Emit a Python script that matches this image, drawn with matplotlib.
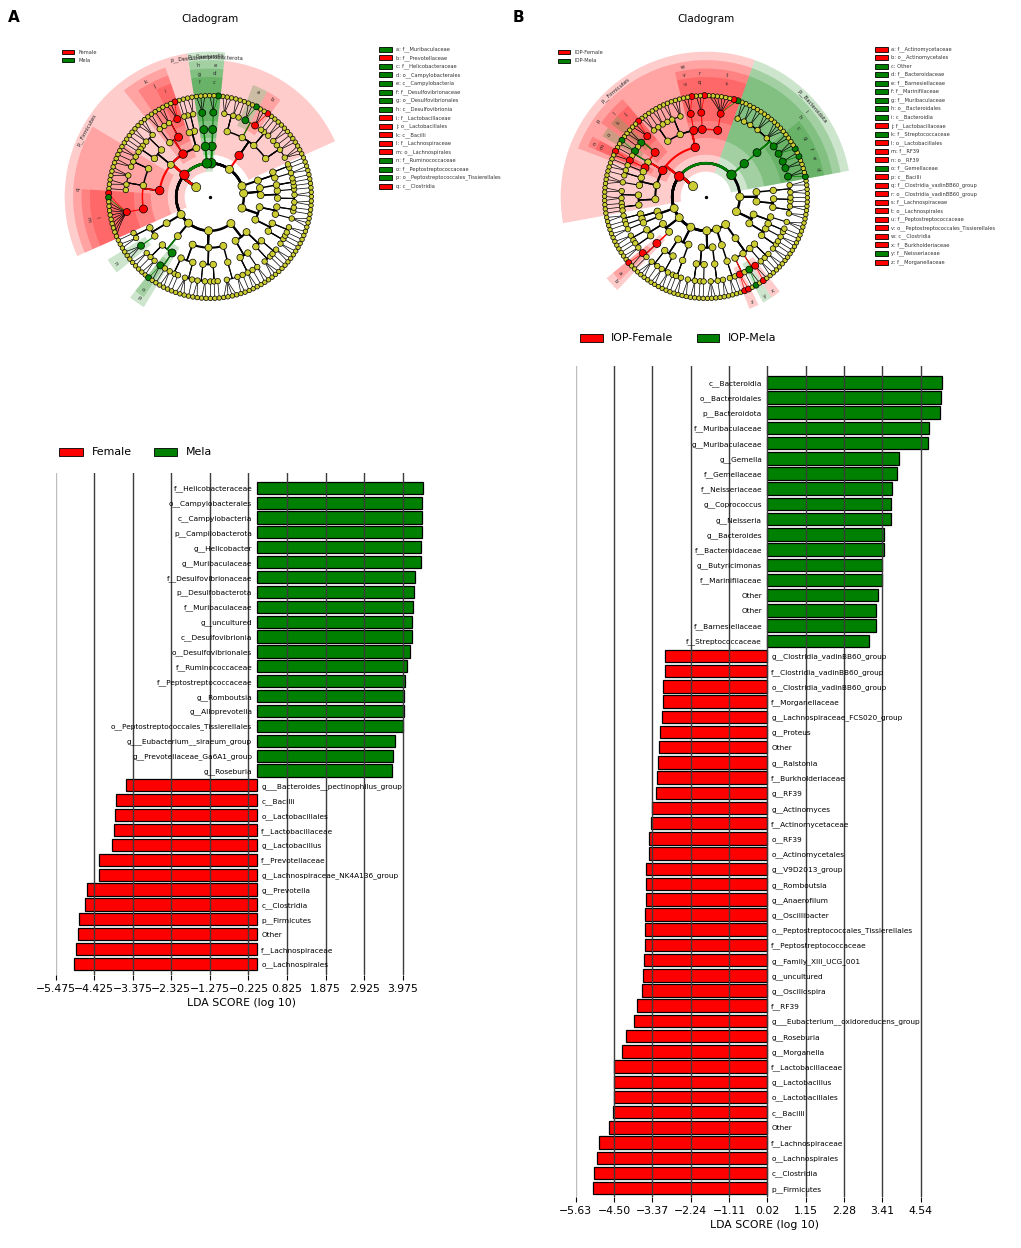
import numpy as np
import matplotlib
matplotlib.use('Agg')
import matplotlib.pyplot as plt
import matplotlib.transforms as mtransforms
from matplotlib.patches import Rectangle

RED = '#ff0000'
GREEN = '#008000'
NODE = '#cccc33'
COLOR = {'Female': RED, 'Mela': GREEN}

# ---------------- LDA scores, panel A (Female vs Mela) ----------------
A_NAMES = [
    'f__Helicobacteraceae', 'o__Campylobacterales', 'c__Campylobacteria', 'p__Campilobacterota',
    'g__Helicobacter', 'g__Muribaculaceae', 'f__Desulfovibrionaceae', 'p__Desulfobacterota',
    'f__Muribaculaceae', 'g__uncultured', 'c__Desulfovibrionia', 'o__Desulfovibrionales',
    'f__Ruminococcaceae', 'f__Peptostreptococcaceae', 'g__Romboutsia', 'g__Alloprevotella',
    'o__Peptostreptococcales_Tissierellales', 'g___Eubacterium__siraeum_group',
    'g__Prevotellaceae_Ga6A1_group', 'g__Roseburia',
    'g___Bacteroides__pectinophilus_group', 'c__Bacilli', 'o__Lactobacillales', 'f__Lactobacillaceae',
    'g__Lactobacillus', 'f__Prevotellaceae', 'g__Lachnospiraceae_NK4A136_group', 'g__Prevotella',
    'c__Clostridia', 'p__Firmicutes', 'Other', 'f__Lachnospiraceae', 'o__Lachnospirales',
]
A_SCORES = [
    4.52, 4.50, 4.50, 4.50, 4.47, 4.46, 4.32, 4.29, 4.25, 4.23, 4.22, 4.18, 4.08, 4.05,
    4.02, 4.01, 3.99, 3.76, 3.71, 3.67,
    -3.57, -3.84, -3.87, -3.89, -3.94, -4.30, -4.30, -4.61, -4.69, -4.85, -4.86, -4.93, -4.98,
]
A_TICKS = [-5.475, -4.425, -3.375, -2.325, -1.275, -0.225, 0.825, 1.875, 2.925, 3.975]

# ---------------- LDA scores, panel B (IOP-Female vs IOP-Mela) ----------------
B_NAMES = [
    'c__Bacteroidia', 'o__Bacteroidales', 'p__Bacteroidota', 'f__Muribaculaceae', 'g__Muribaculaceae',
    'g__Gemella', 'f__Gemellaceae', 'f__Neisseriaceae', 'g__Coprococcus', 'g__Neisseria',
    'g__Bacteroides', 'f__Bacteroidaceae', 'g__Butyricimonas', 'f__Marinifilaceae', 'Other', 'Other',
    'f__Barnesiellaceae', 'f__Streptococcaceae',
    'g__Clostridia_vadinBB60_group', 'f__Clostridia_vadinBB60_group', 'o__Clostridia_vadinBB60_group',
    'f__Morganellaceae', 'g__Lachnospiraceae_FCS020_group', 'g__Proteus', 'Other', 'g__Ralstonia',
    'f__Burkholderiaceae', 'g__RF39', 'g__Actinomyces', 'f__Actinomycetaceae', 'o__RF39',
    'o__Actinomycetales', 'g__V9D2013_group', 'g__Romboutsia', 'g__Anaerofilum', 'g__Oscillibacter',
    'o__Peptostreptococcales_Tissierellales', 'f__Peptostreptococcaceae', 'g__Family_XIII_UCG_001',
    'g__uncultured', 'g__Oscillospira', 'f__RF39', 'g___Eubacterium__oxidoreducens_group',
    'g__Roseburia', 'g__Morganella', 'f__Lactobacillaceae', 'g__Lactobacillus', 'o__Lactobacillales',
    'c__Bacilli', 'Other', 'f__Lachnospiraceae', 'o__Lachnospirales', 'c__Clostridia', 'p__Firmicutes',
]
B_SCORES = [
    5.16, 5.15, 5.11, 4.79, 4.75, 3.89, 3.83, 3.69, 3.68, 3.66, 3.47, 3.47, 3.39, 3.39, 3.29, 3.22,
    3.21, 3.01,
    -3.00, -3.00, -3.05, -3.05, -3.08, -3.14, -3.17, -3.20, -3.23, -3.27, -3.39, -3.42, -3.47, -3.48,
    -3.56, -3.56, -3.57, -3.58, -3.58, -3.59, -3.63, -3.64, -3.67, -3.81, -3.91, -4.15, -4.26, -4.49,
    -4.49, -4.50, -4.53, -4.64, -4.94, -5.01, -5.08, -5.13,
]
B_TICKS = [-5.63, -4.50, -3.37, -2.24, -1.11, 0.02, 1.15, 2.28, 3.41, 4.54]

# ---------------- cladogram trees ----------------
# phylum -> classes -> orders -> families; a family is a genus count or a list of genera
TREE_A = [
    [[[2, 1, 1], [1, 2]], [[3], [1, 1]]],
    [[[2, 2], [1]], [[1, 1, 1]]],
    [[[2], [1, 1]]],
    [('Other', [[3, 2, 1, 2], [2, 1, 1],
                [('f__Prevotellaceae', ['g__Prevotella', 0, 0]),
                 ('f__Muribaculaceae', ['g__Muribaculaceae', 0, 0])],
                [1, 2, 3]])],
    ('p__Campilobacterota', [('c__Campylobacteria', [('o__Campylobacterales',
        [('f__Helicobacteraceae', ['g__Helicobacter', 0, 0])])])]),
    ('p__Desulfobacterota', [('c__Desulfovibrionia', [('o__Desulfovibrionales',
        [('f__Desulfovibrionaceae', 3)])])]),
    ('p__Firmicutes', [
        [[2, 1], [1]],
        ('c__Bacilli', [('o__Lactobacillales', [('f__Lactobacillaceae', ['g__Lactobacillus', 0, 0]), 2, 1]),
                        [2]]),
        [[3, 2], [1, 1, 1]],
        ('c__Clostridia', [[2, 1, 2], [3, 2, 1],
                           ('o__Lachnospirales', [('f__Lachnospiraceae',
                               ['g__Lachnospiraceae_NK4A136_group', 'g__Roseburia', 0, 0, 0, 0, 0, 0, 0, 0, 0])])]),
    ]),
    [[[1, 2], [('f__Ruminococcaceae', 3)]]],
    [[[2, 1, 2], ('o__Peptostreptococcales_Tissierellales',
                  [('f__Peptostreptococcaceae', ['g__Romboutsia', 0]), 1])]],
    [[[2, 1, 1], [3, 1]], [[2, 2], [1, 1, 1]], [[4, 2]]],
    [[[1, 2, 1], [2]], [[3, 1], [1, 2]]],
]
LETTERS_A = [
    'f__Muribaculaceae', 'f__Prevotellaceae', 'f__Helicobacteraceae', 'o__Campylobacterales',
    'c__Campylobacteria', 'f__Desulfovibrionaceae', 'o__Desulfovibrionales', 'c__Desulfovibrionia',
    'f__Lactobacillaceae', 'o__Lactobacillales', 'c__Bacilli', 'f__Lachnospiraceae', 'o__Lachnospirales',
    'f__Ruminococcaceae', 'f__Peptostreptococcaceae', 'o__Peptostreptococcales_Tissierellales',
    'c__Clostridia',
]

TREE_B = [
    [[[2, 1, 1], [2]], [[1, 1], [3]]],
    [[[2, 2], [1, 1]], [[2, 2]]],
    ('p__Bacteroidota', [('c__Bacteroidia', [('o__Bacteroidales', [
        ('f__Bacteroidaceae', ['g__Bacteroides', 0, 0]), ('f__Barnesiellaceae', 2),
        ('f__Marinifilaceae', ['g__Butyricimonas', 0]), ('f__Muribaculaceae', ['g__Muribaculaceae', 0, 0]),
        ('Other', 2), 4, 3, 2, 2, 2])])]),
    ('p__Firmicutes', [
        ('c__Clostridia', [
            ('o__Lachnospirales', [('f__Lachnospiraceae', ['g__Coprococcus', 'g__Roseburia', 0, 0, 0, 0, 0, 0])]),
            ('o__Clostridia_vadinBB60_group', [('f__Clostridia_vadinBB60_group',
                                                ['g__Clostridia_vadinBB60_group', 0, 0])]),
            ('o__Peptostreptococcales_Tissierellales', [('f__Peptostreptococcaceae', ['g__Romboutsia', 0, 0])]),
            [3, 2, 1], [2, 1, 2]]),
        ('c__Bacilli', [
            ('o__Lactobacillales', [('f__Lactobacillaceae', ['g__Lactobacillus', 0, 0]),
                                    ('f__Streptococcaceae', 2), 1]),
            [('f__Gemellaceae', ['g__Gemella', 0]), 1],
            ('o__RF39', [('f__RF39', ['g__RF39', 0])]),
            [1]]),
        [[2, 1], [3]],
        [[2, 2], [1, 1, 1]],
    ]),
    [[[2, 1], [1]], [[2]]],
    [[[2, 1], [1, 2]], [('o__Actinomycetales', [('f__Actinomycetaceae', ['g__Actinomyces', 0]), 1])]],
    [[[3, 1], [2, 2]], [[1, 1, 2]]],
    [[[2, 2, 1], [1]], [[3, 1, 2]]],
    [[[2, 1]]],
    [[[('f__Morganellaceae', ['g__Proteus', 'g__Morganella']), 1],
      [('f__Neisseriaceae', ['g__Neisseria', 0]), ('f__Burkholderiaceae', ['g__Ralstonia', 0])],
      [2], [1, 2]]],
]
LETTERS_B = [
    'f__Actinomycetaceae', 'o__Actinomycetales', 'Other', 'f__Bacteroidaceae', 'f__Barnesiellaceae',
    'f__Marinifilaceae', 'f__Muribaculaceae', 'o__Bacteroidales', 'c__Bacteroidia', 'f__Lactobacillaceae',
    'f__Streptococcaceae', 'o__Lactobacillales', 'f__RF39', 'o__RF39', 'f__Gemellaceae', 'c__Bacilli',
    'f__Clostridia_vadinBB60_group', 'o__Clostridia_vadinBB60_group', 'f__Lachnospiraceae',
    'o__Lachnospirales', 'f__Peptostreptococcaceae', 'o__Peptostreptococcales_Tissierellales',
    'c__Clostridia', 'f__Burkholderiaceae', 'f__Neisseriaceae', 'f__Morganellaceae',
]

W, H = 1021, 1248
LEVEL_PX = 16.9
fig = plt.figure(figsize=(W / 100, H / 100), dpi=100)


def px_axes(x0, y0, x1, y1, **kw):
    return fig.add_axes([x0 / W, 1 - y1 / H, (x1 - x0) / W, (y1 - y0) / H], **kw)


def groups_from(names, scores):
    out = {}
    for nm, s in zip(names, scores):
        out.setdefault(nm, 'Mela' if s > 0 else 'Female')
    return out


def lda_bars(box, names, scores, ticks, decimals, xmax, pad_top, pad_bot):
    ax = px_axes(*box)
    ax.patch.set_alpha(0)
    n = len(names)
    y = np.arange(n)[::-1]
    cols = [GREEN if s > 0 else RED for s in scores]
    ax.barh(y, scores, height=0.82, color=cols, edgecolor='black', linewidth=0.9, zorder=1)
    for i, t in enumerate(ticks):
        ax.axvline(t, color='#bdbdbd' if i == 0 else '#3c3c3c', lw=1.0, zorder=2)
    left = mtransforms.offset_copy(ax.transData, fig=fig, x=-3.3, y=-0.8, units='points')
    right = mtransforms.offset_copy(ax.transData, fig=fig, x=3.3, y=-0.8, units='points')
    for yi, name, s in zip(y, names, scores):
        if s > 0:
            ax.text(0, yi, name, transform=left, ha='right', va='center', fontsize=5.3, zorder=3)
        else:
            ax.text(0, yi, name, transform=right, ha='left', va='center', fontsize=5.3, zorder=3)
    ax.set_xlim(ticks[0], xmax)
    ax.set_ylim(-pad_bot, n - 1 + pad_top)
    ax.set_xticks(ticks)
    ax.set_xticklabels([f'{t:.{decimals}f}'.replace('-', '\u2212') for t in ticks])
    ax.set_yticks([])
    for sp in ax.spines.values():
        sp.set_visible(False)
    ax.tick_params(axis='x', length=3.5, width=0.8, pad=3, labelsize=7.8)
    ax.set_xlabel('LDA SCORE (log 10)', fontsize=7.8, labelpad=2.5)
    return ax


def build(spec, level):
    name = ''
    if isinstance(spec, tuple):
        name, spec = spec
    if isinstance(spec, list):
        kids = [build(s, level + 1) for s in spec]
    elif isinstance(spec, int) and level < 6:
        kids = [build(None, level + 1) for _ in range(spec)]
    else:
        kids = []
        if isinstance(spec, str):
            name = spec
    return {'name': name, 'level': level, 'kids': kids}


def walk(node):
    yield node
    for k in node['kids']:
        yield from walk(k)


def place(node, counter, start, step):
    if not node['kids']:
        node['theta'] = start + (counter[0] + 0.5) * step
        counter[0] += 1
        node['lo'] = node['hi'] = node['theta']
        return
    for k in node['kids']:
        place(k, counter, start, step)
    node['lo'] = node['kids'][0]['lo']
    node['hi'] = node['kids'][-1]['hi']
    node['theta'] = 0.5 * (node['kids'][0]['theta'] + node['kids'][-1]['theta'])


def upright(theta):
    rot = (np.degrees(theta) - 90 + 180) % 360 - 180
    if rot > 90:
        rot -= 180
    elif rot < -90:
        rot += 180
    return rot


NODE_D = {1: 9, 2: 8, 3: 7, 4: 6.5, 5: 5.5, 6: 4.5}
LINE_W = {2: 1.8, 3: 1.5, 4: 1.1, 5: 0.8, 6: 0.5}


def cladogram(center, phyla, groups, letters, start_deg):
    cx, cy = center
    R = 9 * LEVEL_PX
    ax = px_axes(cx - R, cy - R, cx + R, cy + R, projection='polar')
    ax.set_ylim(0, 9)
    ax.set_axis_off()
    root = {'name': '', 'level': 0, 'kids': [build(phyla, 1)]}
    n_leaves = sum(1 for nd in walk(root) if not nd['kids'])
    step = 2 * np.pi / n_leaves
    place(root, [0], np.deg2rad(start_deg), step)
    letter_of = {nm: chr(ord('a') + i) for i, nm in enumerate(letters)}

    def group(nd):
        return groups.get(nd['name']) if nd['name'] else None

    # shaded clade sectors
    for nd in walk(root):
        g = group(nd)
        lv = nd['level']
        if g is None or not 2 <= lv <= 5:
            continue
        bottom = lv - 0.5
        outer = 6.6 + (6 - lv) * 0.5
        mid = 0.5 * (nd['lo'] + nd['hi'])
        ax.bar(mid, outer - bottom, width=nd['hi'] - nd['lo'] + step, bottom=bottom,
               color=COLOR[g], alpha=0.2, linewidth=0, zorder=0)
        if lv == 2:
            txt = nd['name']
        elif nd['name'] in letter_of:
            txt = letter_of[nd['name']]
        else:
            continue
        ax.text(mid, outer - 0.3, txt, rotation=upright(mid), ha='center', va='center',
                fontsize=3.8, color='#222222', zorder=5)

    # branches
    for p in walk(root):
        if p['level'] == 0:
            continue
        for k in p['kids']:
            tp, rp, tk, rk = p['theta'], p['level'], k['theta'], k['level']
            if rk == 6:
                th = np.linspace(tp, tk, 8)
                rr = np.linspace(rp, rk, 8)
            else:
                th = np.r_[tp, np.linspace(tp, tk, 40)]
                rr = np.r_[rp, np.full(40, rk)]
            g = group(k)
            ax.plot(th, rr, color=COLOR[g] if g else 'black', lw=LINE_W[rk],
                    zorder=2 if g else 1, solid_capstyle='butt')

    # nodes
    th, rr, ss, cc = [], [], [], []
    for nd in walk(root):
        if nd['level'] == 0:
            continue
        g = group(nd)
        d = NODE_D[nd['level']] + (1.5 if g else 0)
        th.append(nd['theta'])
        rr.append(nd['level'])
        ss.append((d * 0.72) ** 2)
        cc.append(COLOR[g] if g else NODE)
    ax.scatter(th, rr, s=ss, c=cc, edgecolors='black', linewidths=0.5, zorder=3)
    ax.scatter([0], [0], s=2, c='black', zorder=3)
    return ax


GROUPS_A = groups_from(A_NAMES, A_SCORES)
GROUPS_B = groups_from(B_NAMES, B_SCORES)

lda_bars((55.7, 473.3, 55.7 + (4.65 + 5.475) * 36.72, 975), A_NAMES, A_SCORES, A_TICKS, 3, 4.65, 0.97, 0.74)
lda_bars((575.7, 366, 575.7 + (5.5 + 5.63) * 33.92, 1197), B_NAMES, B_SCORES, B_TICKS, 2, 5.5, 1.07, 0.58)

cladogram((210, 197), TREE_A, GROUPS_A, LETTERS_A, -36)
cladogram((706, 197), TREE_B, GROUPS_B, LETTERS_B, -40)

# overlay in pixel coordinates for panel letters, titles and legends
ov = px_axes(0, 0, W, H)
ov.set_xlim(0, W)
ov.set_ylim(H, 0)
ov.axis('off')


def legend_row(x, y, w, h, color, text, fs, gap, tcolor='black'):
    ov.add_patch(Rectangle((x, y - h / 2), w, h, facecolor=color, edgecolor='black', lw=0.6))
    ov.text(x + w + gap, y, text, fontsize=fs, va='center', ha='left', color=tcolor)


ov.text(14, 17, 'A', fontsize=11, fontweight='bold', ha='center', va='center')
ov.text(518, 17, 'B', fontsize=11, fontweight='bold', ha='center', va='center')
ov.text(210, 19, 'Cladogram', fontsize=7.5, ha='center', va='center')
ov.text(706, 19, 'Cladogram', fontsize=7.5, ha='center', va='center')

# bar chart legends
legend_row(59, 452, 24, 8, RED, 'Female', 7.9, 9)
legend_row(154, 452, 23, 8, GREEN, 'Mela', 7.9, 9)
legend_row(580, 338, 23, 8, RED, 'IOP-Female', 7.9, 8)
legend_row(697, 338, 22, 8, GREEN, 'IOP-Mela', 7.9, 9)

# cladogram class legends
legend_row(62, 52, 12, 4, RED, 'Female', 3.7, 4, '#333333')
legend_row(62, 60, 12, 4, GREEN, 'Mela', 3.7, 4, '#333333')
legend_row(558, 52, 12, 4, RED, 'IOP-Female', 3.7, 4, '#333333')
legend_row(558, 61, 12, 4, GREEN, 'IOP-Mela', 3.7, 4, '#333333')

for i, nm in enumerate(LETTERS_A):
    legend_row(379, 49.3 + i * 8.55, 13, 5, COLOR[GROUPS_A[nm]], f'{chr(97 + i)}: {nm}', 3.7, 4, '#333333')
for i, nm in enumerate(LETTERS_B):
    legend_row(875, 49 + i * 8.52, 13, 5, COLOR[GROUPS_B[nm]], f'{chr(97 + i)}: {nm}', 3.7, 3, '#333333')

fig.savefig('out.png', dpi=100)
